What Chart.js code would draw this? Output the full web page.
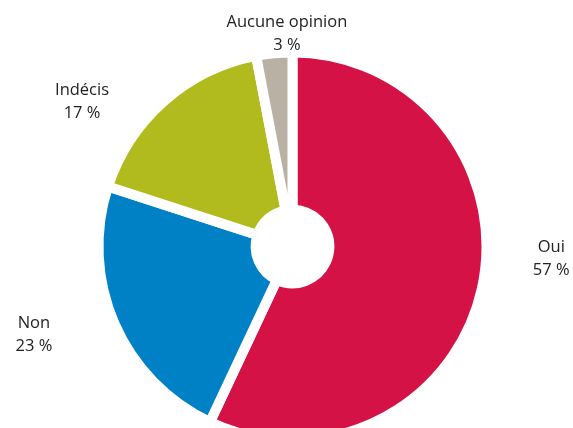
<!DOCTYPE html>
<html>
<head>
<meta charset="utf-8">
<script src="https://cdn.jsdelivr.net/npm/chart.js@4"></script>
<style>
  html, body { margin: 0; padding: 0; background: #fff; }
  #wrap { width: 573px; height: 428px; }
</style>
</head>
<body>
<div id="wrap"><canvas id="pie" width="573" height="428"></canvas></div>
<script>
const categories = ["Oui", "Non", "Indécis", "Aucune opinion"];
const shares = [57, 23, 17, 3];
const sliceColors = ["#d41246", "#0081c6", "#b2bb1e", "#bab1a5"];

// where each label sits: angle (deg, clockwise from top) and gap beyond the outer edge
const labelAngles = [92.6, 251.3, 304.7, 358.5];
const labelGaps = [70, 84, 67, 25];

const outsideLabels = {
  id: "outsideLabels",
  afterDraw(chart) {
    const arc = chart.getDatasetMeta(0).data[0];
    const ctx = chart.ctx;
    const r = arc.outerRadius - 5;
    ctx.save();
    ctx.font = '16.5px "Open Sans"';
    ctx.fillStyle = "#222222";
    ctx.textAlign = "center";
    ctx.textBaseline = "alphabetic";
    categories.forEach((name, i) => {
      const a = labelAngles[i] * Math.PI / 180;
      const d = r + labelGaps[i];
      const x = arc.x + Math.sin(a) * d;
      const y = arc.y - Math.cos(a) * d;
      ctx.fillText(name, x, y - 5.8);
      ctx.fillText(shares[i] + " %", x, y + 17.2);
    });
    ctx.restore();
  }
};

new Chart(document.getElementById("pie").getContext("2d"), {
  type: "doughnut",
  data: {
    labels: categories,
    datasets: [{
      data: shares,
      backgroundColor: sliceColors,
      borderColor: "#ffffff",
      borderWidth: 10,
      radius: 194,
      hoverOffset: 0
    }]
  },
  options: {
    responsive: false,
    animation: false,
    cutout: "19%",
    events: [],
    layout: { padding: { left: 12, top: 65, right: 0, bottom: 0 } },
    plugins: {
      legend: { display: false },
      tooltip: { enabled: false }
    }
  },
  plugins: [outsideLabels]
});
</script>
</body>
</html>
